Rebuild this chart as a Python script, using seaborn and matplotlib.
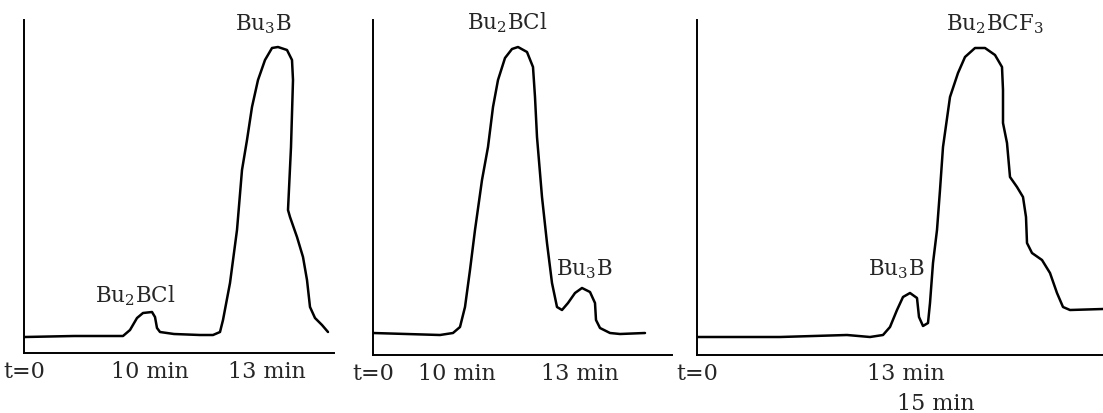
import matplotlib.pyplot as plt
import numpy as np
import pandas as pd
import seaborn as sns

# chart distance (arbitrary units) vs detector response
p1_x = [1, 50, 99, 106, 113, 119, 128, 131, 133, 136, 150, 176, 189, 196, 199, 206,
        213, 218, 223, 228, 234, 241, 248, 254, 263, 268, 269, 267, 264, 266, 273,
        279, 283, 286, 291, 298, 304]
p1_y = [16, 17, 17, 23, 35, 40, 41, 36, 25, 21, 19, 18, 18, 21, 33, 70,
        123, 183, 213, 246, 273, 293, 305, 306, 303, 293, 273, 206, 143, 136, 116,
        96, 73, 46, 35, 28, 21]

p2_x = [0, 67, 80, 87, 92, 97, 102, 109, 115, 120, 125, 132, 139, 145, 154, 160, 162,
        164, 169, 174, 179, 184, 189, 195, 202, 209, 217, 222, 223, 227, 237, 247, 272]
p2_y = [22, 20, 22, 28, 48, 85, 125, 175, 208, 248, 275, 297, 306, 308, 303, 288, 258,
        218, 158, 112, 72, 48, 45, 52, 62, 67, 63, 52, 35, 27, 22, 21, 22]

p3_x = [0, 83, 150, 173, 186, 193, 200, 206, 213, 220, 222, 226, 231, 233, 236, 240,
        243, 246, 253, 261, 268, 278, 288, 298, 305, 306, 306, 310, 313, 320, 326,
        329, 330, 335, 345, 353, 360, 366, 373, 406]
p3_y = [18, 18, 20, 18, 20, 28, 45, 58, 62, 57, 38, 29, 32, 52, 92, 125,
        165, 208, 258, 282, 298, 307, 307, 300, 288, 265, 232, 212, 178, 168, 158,
        138, 112, 102, 95, 82, 62, 48, 45, 46]

p1_ticks = [0, 126, 243]
p1_labels = ["t=0", "10 min", "13 min"]
p2_ticks = [0, 84, 207]
p2_labels = ["t=0", "10 min", "13 min"]
p3_ticks = [0, 209, 239]
p3_labels = ["t=0", "13 min", "15 min"]

p1_peaks = [("Bu$_2$BCl", 111, 51), ("Bu$_3$B", 239, 323)]
p2_peaks = [("Bu$_2$BCl", 134, 326), ("Bu$_3$B", 211, 80)]
p3_peaks = [("Bu$_3$B", 199, 80), ("Bu$_2$BCF$_3$", 298, 325)]

sns.set_style("white")
plt.rcParams['font.family'] = ['DejaVu Serif']
plt.rcParams['mathtext.fontset'] = 'dejavuserif'

W, H = 1103, 413
fig = plt.figure(figsize=(W / 100, H / 100), dpi=100)

# left, right, bottom, top in pixels
boxes = [(24, 334, 353, 20), (373, 672, 355, 20), (697, 1103, 355, 20)]
panels = [(p1_x, p1_y, p1_ticks, p1_labels, p1_peaks),
          (p2_x, p2_y, p2_ticks, p2_labels, p2_peaks),
          (p3_x, p3_y, p3_ticks, p3_labels, p3_peaks)]

for k, (box, (xs, ys, ticks, labels, peaks)) in enumerate(zip(boxes, panels)):
    left, right, bottom, top = box
    ax = fig.add_axes([left / W, 1 - bottom / H, (right - left) / W, (bottom - top) / H])
    df = pd.DataFrame({'pos': xs, 'signal': ys})
    sns.lineplot(x='pos', y='signal', data=df, sort=False, estimator=None, errorbar=None,
                 color='black', lw=1.8, ax=ax, solid_joinstyle='round')
    ax.set_xlim(0, right - left)
    ax.set_ylim(0, bottom - top)
    ax.set_xlabel('')
    ax.set_ylabel('')
    ax.set_yticks([])
    ax.set_xticks(ticks)
    ax.set_xticklabels(labels, fontsize=16)
    ax.tick_params(axis='x', direction='inout', length=7, width=1.3, pad=2, color='black')
    sns.despine(ax=ax)
    for side in ['left', 'bottom']:
        ax.spines[side].set_color('black')
        ax.spines[side].set_linewidth(1.4)
    tks = ax.xaxis.get_major_ticks()
    tks[0].tick1line.set_visible(False)
    if k == 2:
        tks[2].set_pad(24)
    for name, px, py in peaks:
        ax.text(px, py, name, fontsize=15.5, ha='center', va='baseline')

fig.savefig('out.png', dpi=100)
